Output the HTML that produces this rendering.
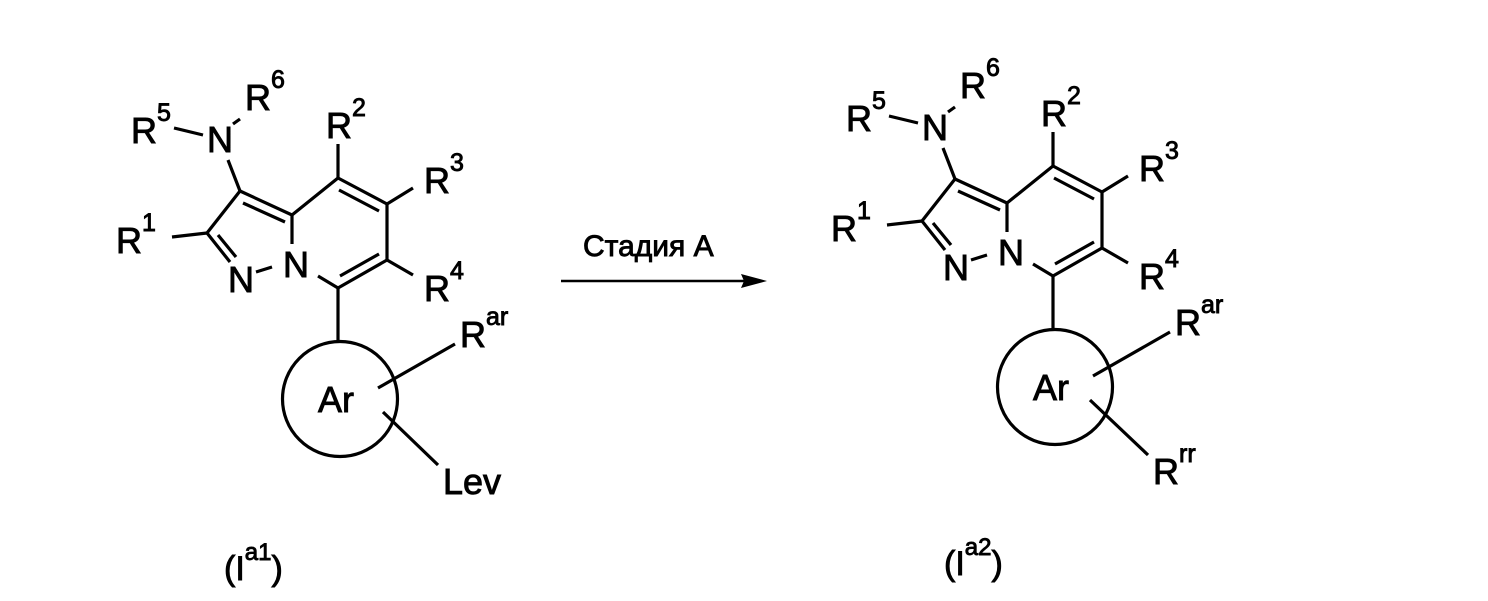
<!DOCTYPE html>
<html><head><meta charset="utf-8"><style>
html,body{margin:0;padding:0;background:#fff;}
svg{display:block;}
text{font-family:"Liberation Sans",Arial,sans-serif;fill:#000;stroke:#000;stroke-width:0.9;}
.a{font-size:36px;}
line,circle{stroke:#000;stroke-width:3.2;fill:none;}
</style></head><body>
<svg width="1488" height="601" viewBox="0 0 1488 601" xmlns="http://www.w3.org/2000/svg">
<defs>
<g id="core">
  <text class="a" x="207" y="152">N</text>
  <line x1="174" y1="128" x2="203" y2="135"/>
  <text class="a" x="131" y="143">R<tspan dy="-22" font-size="25">5</tspan></text>
  <line x1="233" y1="124" x2="240" y2="119"/>
  <text class="a" x="245" y="110">R<tspan dy="-22" font-size="25">6</tspan></text>
  <line x1="228" y1="160" x2="240" y2="191"/>
  <line x1="240" y1="191" x2="292" y2="215"/>
  <line x1="243" y1="203" x2="285" y2="222"/>
  <line x1="240" y1="191" x2="207" y2="233"/>
  <line x1="207" y1="233" x2="230" y2="262"/>
  <line x1="218" y1="235" x2="236" y2="257"/>
  <line x1="172" y1="237" x2="207" y2="233"/>
  <text class="a" x="116" y="253">R<tspan dy="-22" font-size="25">1</tspan></text>
  <text class="a" x="228" y="292">N</text>
  <line x1="256" y1="272" x2="272" y2="267"/>
  <text class="a" x="283" y="277">N</text>
  <line x1="292" y1="215" x2="292" y2="244"/>
  <line x1="292" y1="215" x2="338" y2="178"/>
  <line x1="338" y1="178" x2="387" y2="204"/>
  <line x1="339" y1="190" x2="379" y2="211"/>
  <line x1="387" y1="204" x2="387" y2="260"/>
  <line x1="387" y1="260" x2="338" y2="288"/>
  <line x1="379" y1="254" x2="340" y2="276"/>
  <line x1="318" y1="276" x2="338" y2="288"/>
  <line x1="338" y1="178" x2="338" y2="144"/>
  <text class="a" x="326" y="138">R<tspan dy="-22" font-size="25">2</tspan></text>
  <line x1="387" y1="204" x2="413" y2="188"/>
  <text class="a" x="424" y="193">R<tspan dy="-22" font-size="25">3</tspan></text>
  <line x1="387" y1="260" x2="413" y2="275"/>
  <text class="a" x="424" y="301">R<tspan dy="-22" font-size="25">4</tspan></text>
  <line x1="338" y1="288" x2="338" y2="342"/>
  <circle cx="340" cy="399" r="57.5"/>
  <text class="a" x="318" y="412">Ar</text>
  <line x1="378" y1="388" x2="455" y2="344"/>
  <text class="a" x="460" y="347">R<tspan dy="-22" font-size="25">ar</tspan></text>
</g>
</defs>
<use href="#core"/>
<line x1="383" y1="412" x2="438" y2="465"/>
<text class="a" x="443" y="494">Lev</text>

<g transform="translate(715,-12)">
<use href="#core"/>
<line x1="375" y1="412" x2="433" y2="467"/>
<text class="a" x="438" y="496">R<tspan dy="-22" font-size="25">rr</tspan></text>
</g>

<text x="583" y="256" style="font-size:30px">Стадия А</text>
<line x1="561" y1="281" x2="748" y2="281" style="stroke-width:2.5"/>
<polygon points="767,281 741,274 744,281 741,288" fill="#000"/>

<text x="224" y="580" style="font-size:34px">(I<tspan dy="-20" font-size="24">a1</tspan><tspan dy="20">)</tspan></text>
<text x="944" y="575" style="font-size:34px">(I<tspan dy="-20" font-size="24">a2</tspan><tspan dy="20">)</tspan></text>
</svg>
</body></html>
